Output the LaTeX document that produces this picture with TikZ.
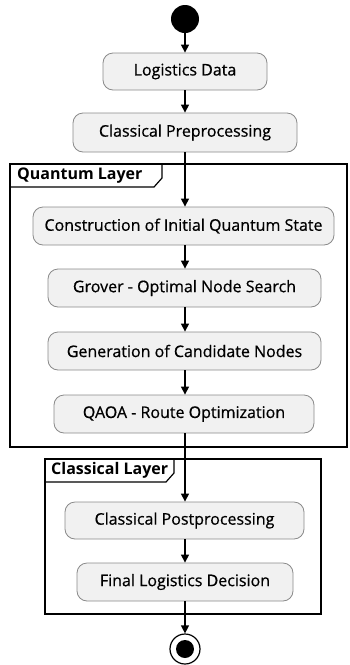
\documentclass[tikz,border=0pt]{standalone}
\usepackage{fontspec}
\setmainfont{Open Sans}
\newfontfamily\actfont[FakeBold=0.6]{Open Sans}
\usetikzlibrary{arrows.meta}
\definecolor{actfill}{HTML}{F1F1F1}
\definecolor{actline}{HTML}{8A8A8A}
\tikzset{
  act/.style={draw=actline, fill=actfill, rounded corners=10pt, line width=0.8pt,
    inner sep=0pt, font=\actfont\fontsize{16}{18}\selectfont, anchor=center},
  flow/.style={line width=1.2pt, -{Triangle[length=8pt,width=8pt]}},
  frame/.style={line width=1.2pt},
  tab/.style={font=\bfseries\fontsize{16}{18}\selectfont, anchor=west, inner sep=0pt}
}
\begin{document}
\begin{tikzpicture}[x=1pt, y=-1pt]
\useasboundingbox (0,0) rectangle (350,665);
% vertical axis of the flow
\coordinate (ax) at (185,0);
% swimlane frames
\draw[frame] (10,164) rectangle (347,447);
\draw[frame] (10,187) -- (154,187) -- (162,178) -- (162,164);
\node[tab] (ql) at (17,175.5) {Quantum Layer};
\draw[frame] (45,459) rectangle (321,614);
\draw[frame] (45,482) -- (166,482) -- (174,473) -- (174,459);
\node[tab] (cl) at (51,470.5) {Classical Layer};
% start and end
\node[circle, fill=black, minimum size=28pt, inner sep=0pt] (startn) at (185,19) {};
\node[circle, draw, line width=1.2pt, fill=white, minimum size=30pt, inner sep=0pt] (endn) at (185,649) {};
\fill (endn.center) circle (9);
% activities
\node[act, minimum width=164pt, minimum height=37pt] (ld) at (185,71.5) {Logistics Data};
\node[act, minimum width=224pt, minimum height=39pt] (cp) at (185,132.5) {Classical Preprocessing};
\node[act, minimum width=301pt, minimum height=38pt] (cq) at (183.5,226) {Construction of Initial Quantum State};
\node[act, minimum width=273pt, minimum height=38pt] (gr) at (184.5,288) {Grover - Optimal Node Search};
\node[act, minimum width=273pt, minimum height=38pt] (gn) at (184.5,351) {Generation of Candidate Nodes};
\node[act, minimum width=260pt, minimum height=38pt] (qa) at (184,414) {QAOA - Route Optimization};
\node[act, minimum width=239pt, minimum height=37pt] (cpp) at (184.5,520.5) {Classical Postprocessing};
\node[act, minimum width=216pt, minimum height=38pt] (fd) at (185,582) {Final Logistics Decision};
% flow
\draw[flow] (startn.south) -- (ax |- ld.north);
\draw[flow] (ax |- ld.south) -- (ax |- cp.north);
\draw[flow] (ax |- cp.south) -- (ax |- cq.north);
\draw[flow] (ax |- cq.south) -- (ax |- gr.north);
\draw[flow] (ax |- gr.south) -- (ax |- gn.north);
\draw[flow] (ax |- gn.south) -- (ax |- qa.north);
\draw[flow] (ax |- qa.south) -- (ax |- cpp.north);
\draw[flow] (ax |- cpp.south) -- (ax |- fd.north);
\draw[flow] (ax |- fd.south) -- (endn.north);
\end{tikzpicture}
\end{document}
